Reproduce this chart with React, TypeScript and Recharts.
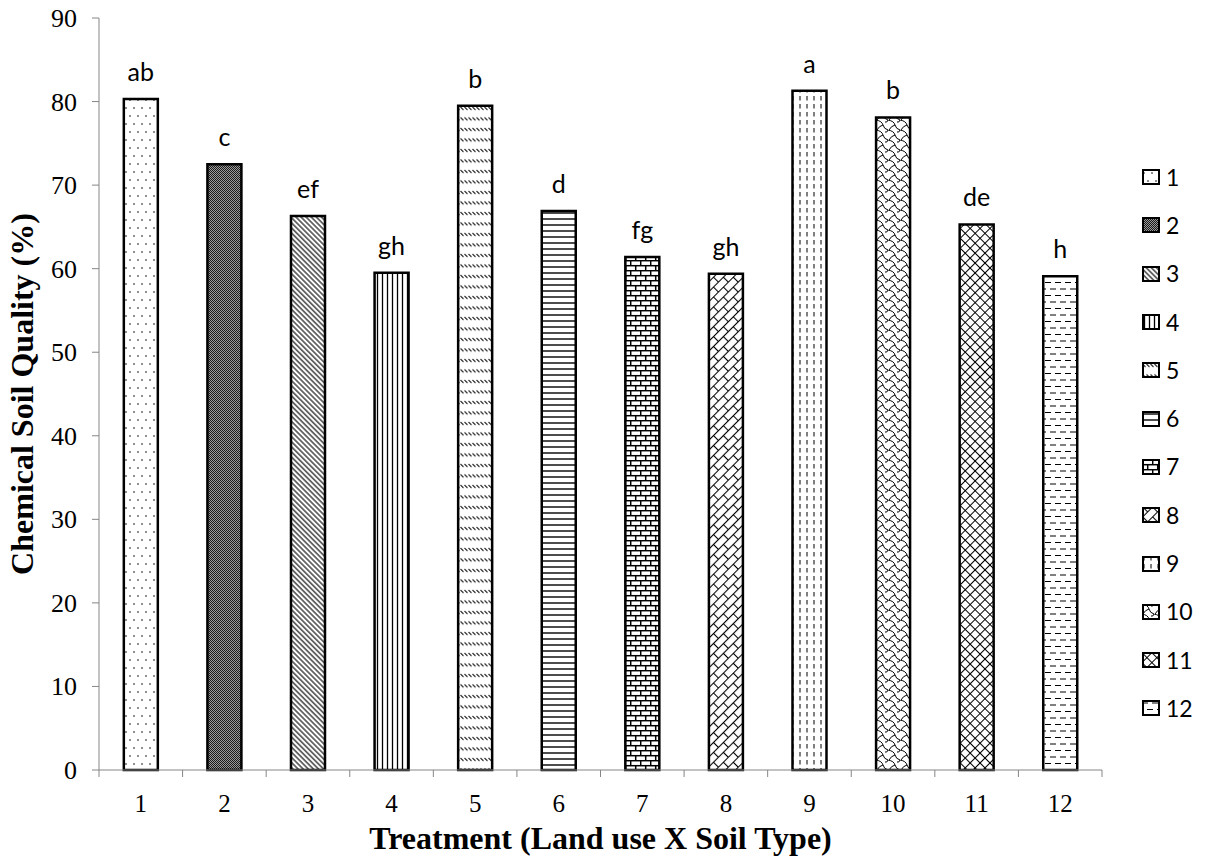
import React from 'react';
import { BarChart, Bar, XAxis, YAxis, Cell, LabelList, Label, Legend } from 'recharts';

const treatments = ['1', '2', '3', '4', '5', '6', '7', '8', '9', '10', '11', '12'];
const soilQuality = [80.3, 72.5, 66.3, 59.5, 79.5, 66.9, 61.4, 59.4, 81.3, 78.1, 65.3, 59.1];
const letters = ['ab', 'c', 'ef', 'gh', 'b', 'd', 'fg', 'gh', 'a', 'b', 'de', 'h'];
const yTicks = [0, 10, 20, 30, 40, 50, 60, 70, 80, 90];

const data = treatments.map((t, i) => ({ treatment: t, value: soilQuality[i], letter: letters[i] }));

const SERIF = '"Liberation Serif", "Times New Roman", serif';
const SANS = 'Lato, "Open Sans", sans-serif';
const AXIS_GRAY = '#868686';

const Patterns = () => (
  <defs>
    <pattern id="p1" patternUnits="userSpaceOnUse" width={8} height={16}>
      <rect width={8} height={16} fill="#fff" />
      <circle cx={2} cy={4} r={0.8} fill="#000" />
      <circle cx={6} cy={12} r={0.8} fill="#000" />
    </pattern>
    <pattern id="p2" patternUnits="userSpaceOnUse" width={2} height={2}>
      <rect width={2} height={2} fill="#9a9a9a" />
      <rect x={0} y={0} width={1} height={1} fill="#1a1a1a" />
      <rect x={1} y={1} width={1} height={1} fill="#1a1a1a" />
    </pattern>
    <pattern id="p3" patternUnits="userSpaceOnUse" width={3.6} height={3.6} patternTransform="rotate(-45)">
      <rect width={3.6} height={3.6} fill="#fff" />
      <line x1={1.8} y1={0} x2={1.8} y2={3.6} stroke="#000" strokeWidth={1.1} />
    </pattern>
    <pattern id="p4" patternUnits="userSpaceOnUse" width={5} height={5}>
      <rect width={5} height={5} fill="#fff" />
      <line x1={2.5} y1={0} x2={2.5} y2={5} stroke="#000" strokeWidth={1.3} />
    </pattern>
    <pattern id="p5" patternUnits="userSpaceOnUse" width={4} height={10.5}>
      <rect width={4} height={10.5} fill="#fff" />
      <line x1={0.5} y1={2} x2={3.5} y2={5} stroke="#000" strokeWidth={1} />
    </pattern>
    <pattern id="p6" patternUnits="userSpaceOnUse" width={6} height={6}>
      <rect width={6} height={6} fill="#fff" />
      <line x1={0} y1={3} x2={6} y2={3} stroke="#000" strokeWidth={1.4} />
    </pattern>
    <pattern id="p7" patternUnits="userSpaceOnUse" width={10} height={10}>
      <rect width={10} height={10} fill="#fff" />
      <line x1={0} y1={0.7} x2={10} y2={0.7} stroke="#000" strokeWidth={1.5} />
      <line x1={0} y1={5.7} x2={10} y2={5.7} stroke="#000" strokeWidth={1.5} />
      <line x1={0.7} y1={0.7} x2={0.7} y2={5.7} stroke="#000" strokeWidth={1.5} />
      <line x1={5.7} y1={5.7} x2={5.7} y2={10.7} stroke="#000" strokeWidth={1.5} />
    </pattern>
    <pattern id="p8" patternUnits="userSpaceOnUse" width={14} height={14} patternTransform="rotate(-45)">
      <rect width={14} height={14} fill="#fff" />
      <line x1={0} y1={0.5} x2={14} y2={0.5} stroke="#000" strokeWidth={1.1} />
      <line x1={0} y1={7.5} x2={14} y2={7.5} stroke="#000" strokeWidth={1.1} />
      <line x1={0.5} y1={0.5} x2={0.5} y2={7.5} stroke="#000" strokeWidth={1.1} />
      <line x1={7.5} y1={7.5} x2={7.5} y2={14.5} stroke="#000" strokeWidth={1.1} />
    </pattern>
    <pattern id="p9" patternUnits="userSpaceOnUse" width={7} height={8}>
      <rect width={7} height={8} fill="#fff" />
      <line x1={2} y1={0} x2={2} y2={4.5} stroke="#000" strokeWidth={1} />
    </pattern>
    <pattern id="p10" patternUnits="userSpaceOnUse" width={12} height={10}>
      <rect width={12} height={10} fill="#fff" />
      <path d="M0,0 Q6,1 7,5 Q8,9 12,10" fill="none" stroke="#000" strokeWidth={1} />
      <path d="M7,5 Q3,6 1,10" fill="none" stroke="#000" strokeWidth={1} />
      <path d="M12,0 Q11,3 9,2" fill="none" stroke="#000" strokeWidth={1} />
    </pattern>
    <pattern id="p11" patternUnits="userSpaceOnUse" width={7} height={7} patternTransform="rotate(45)">
      <rect width={7} height={7} fill="#fff" />
      <line x1={0} y1={0.5} x2={7} y2={0.5} stroke="#000" strokeWidth={1} />
      <line x1={0.5} y1={0} x2={0.5} y2={7} stroke="#000" strokeWidth={1} />
    </pattern>
    <pattern id="p12" patternUnits="userSpaceOnUse" width={10} height={13}>
      <rect width={10} height={13} fill="#fff" />
      <line x1={0} y1={3} x2={6} y2={3} stroke="#000" strokeWidth={1} />
      <line x1={5} y1={9.5} x2={10} y2={9.5} stroke="#000" strokeWidth={1} />
      <line x1={0} y1={9.5} x2={1} y2={9.5} stroke="#000" strokeWidth={1} />
    </pattern>
  </defs>
);

const XTick = (props: any) => {
  const { x, y, payload, index, visibleTicksCount } = props;
  const half = payload && typeof payload.offset === 'number' ? payload.offset : 0;
  const isLast = index === visibleTicksCount - 1;
  return (
    <g>
      <line x1={x - half} x2={x - half} y1={y} y2={y + 7} stroke={AXIS_GRAY} strokeWidth={1} />
      {isLast && <line x1={x + half} x2={x + half} y1={y} y2={y + 7} stroke={AXIS_GRAY} strokeWidth={1} />}
      <text x={x} y={y + 42} textAnchor="middle" fontFamily={SERIF} fontSize={25} fill="#000">
        {payload.value}
      </text>
    </g>
  );
};

const YTick = (props: any) => {
  const { x, y, payload } = props;
  return (
    <text x={x} y={y} dy={9} textAnchor="end" fontFamily={SERIF} fontSize={26} fill="#000">
      {payload.value}
    </text>
  );
};

const XTitle = (props: any) => {
  const vb = props.viewBox || {};
  return (
    <text x={vb.x + vb.width / 2} y={vb.y + 79} textAnchor="middle" fontFamily={SERIF} fontWeight="bold" fontSize={32} fill="#000">
      Treatment (Land use X Soil Type)
    </text>
  );
};

const YTitle = (props: any) => {
  const vb = props.viewBox || {};
  const cx = vb.x + 22;
  const cy = vb.y + vb.height / 2;
  return (
    <text x={cx} y={cy} transform={`rotate(-90, ${cx}, ${cy})`} textAnchor="middle" dominantBaseline="central" fontFamily={SERIF} fontWeight="bold" fontSize={32} fill="#000">
      Chemical Soil Quality (%)
    </text>
  );
};

const LegendContent = () => (
  <div style={{ display: 'flex', flexDirection: 'column' }}>
    {treatments.map((t, i) => (
      <div key={t} style={{ height: 48.3, display: 'flex', alignItems: 'center' }}>
        <svg width={18} height={16} style={{ display: 'block' }}>
          <rect x={1} y={1} width={16} height={14} fill={`url(#p${i + 1})`} stroke="#000" strokeWidth={2} />
        </svg>
        <span style={{ marginLeft: 6, fontFamily: SANS, fontSize: 23, color: '#000', lineHeight: 1 }}>{t}</span>
      </div>
    ))}
  </div>
);

export default function App() {
  return (
    <div style={{ position: 'absolute', left: 0, top: 0, width: 1206, height: 860, background: '#fff' }}>
      <BarChart
        width={1206}
        height={860}
        data={data}
        margin={{ top: 18, right: 104, bottom: 0, left: 0 }}
        barCategoryGap="29.7%"
      >
        <Patterns />
        <XAxis
          dataKey="treatment"
          height={90}
          axisLine={{ stroke: AXIS_GRAY, strokeWidth: 1 }}
          tickLine={false}
          tickSize={0}
          tickMargin={0}
          interval={0}
          tick={<XTick />}
        >
          <Label content={<XTitle />} />
        </XAxis>
        <YAxis
          width={99}
          domain={[0, 90]}
          ticks={yTicks}
          interval={0}
          axisLine={{ stroke: AXIS_GRAY, strokeWidth: 1 }}
          tickLine={{ stroke: AXIS_GRAY, strokeWidth: 1 }}
          tickSize={7}
          tickMargin={15}
          tick={<YTick />}
        >
          <Label content={<YTitle />} />
        </YAxis>
        <Legend
          layout="horizontal"
          verticalAlign="middle"
          align="center"
          content={<LegendContent />}
          wrapperStyle={{ left: 1142, top: 153, width: 64, height: 590 }}
        />
        <Bar dataKey="value" stroke="#000" strokeWidth={2.5} isAnimationActive={false}>
          {data.map((d, i) => (
            <Cell key={d.treatment} fill={`url(#p${i + 1})`} />
          ))}
          <LabelList dataKey="letter" position="top" offset={18} fill="#000" fontFamily={SANS} fontSize={25} />
        </Bar>
      </BarChart>
    </div>
  );
}
